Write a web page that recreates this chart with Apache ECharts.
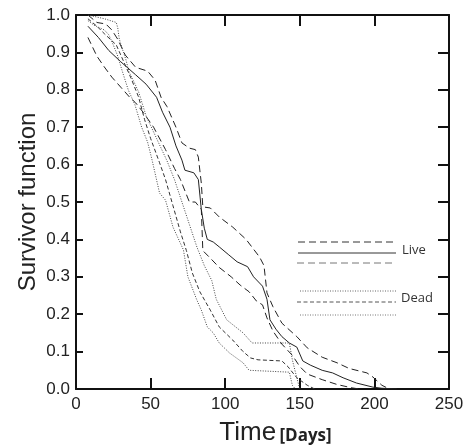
<!DOCTYPE html>
<html>
<head>
<meta charset="utf-8">
<script src="https://cdn.jsdelivr.net/npm/echarts@6/dist/echarts.min.js"></script>
<style>
  html, body { margin: 0; padding: 0; background: #fff; }
  #chart { width: 469px; height: 447px; }
</style>
</head>
<body>
<div id="chart"></div>
<script>
// survivor curves, [days, survival]
var liveMid = [[8,0.97],[15,0.94],[22,0.905],[30,0.875],[40,0.84],[47,0.815],[54,0.78],[58,0.74],[63,0.70],[67,0.65],[71,0.612],[73,0.585],[79,0.578],[82,0.56],[84,0.48],[86,0.43],[88,0.40],[92,0.393],[96,0.38],[102,0.36],[108,0.34],[115,0.327],[119,0.30],[125,0.275],[128,0.24],[130,0.185],[134,0.16],[138,0.14],[143,0.123],[148,0.112],[152,0.075],[157,0.064],[165,0.05],[172,0.043],[179,0.03],[188,0.016],[199,0.005],[205,0.002],[215,0]]
var liveHigh = [[8,1.0],[14,0.98],[20,0.976],[24,0.96],[28,0.935],[33,0.893],[40,0.86],[48,0.85],[53,0.826],[57,0.78],[61,0.755],[67,0.70],[71,0.658],[76,0.644],[80,0.64],[82,0.62],[84,0.55],[85,0.487],[90,0.484],[96,0.46],[105,0.433],[114,0.40],[123,0.353],[126,0.33],[128,0.257],[132,0.22],[138,0.176],[148,0.14],[155,0.11],[165,0.085],[175,0.07],[183,0.055],[195,0.043],[199,0.032],[205,0.01],[210,0]]
var liveLow = [[8,0.94],[14,0.89],[19,0.861],[24,0.834],[30,0.807],[36,0.78],[40,0.765],[45,0.74],[52,0.70],[60,0.64],[66,0.59],[70,0.56],[76,0.50],[80,0.50],[84,0.48],[85,0.37],[90,0.35],[96,0.325],[104,0.30],[110,0.278],[116,0.26],[121,0.235],[125,0.225],[128,0.19],[132,0.155],[138,0.12],[145,0.09],[150,0.06],[155,0.04],[165,0.025],[175,0.012],[185,0.003],[190,0]]
var deadMid = [[8,0.99],[14,0.97],[19,0.95],[23,0.935],[27,0.92],[30,0.893],[33,0.866],[37,0.83],[42,0.78],[46,0.72],[50,0.67],[56,0.605],[60,0.56],[65,0.49],[70,0.42],[74,0.37],[78,0.31],[83,0.26],[90,0.211],[96,0.166],[105,0.131],[112,0.10],[117,0.083],[122,0.078],[138,0.075],[142,0.06],[148,0.03],[155,0.01],[160,0]]
var deadHigh = [[8,1.0],[19,0.99],[27,0.98],[28,0.965],[29,0.936],[31,0.91],[33.5,0.88],[35.5,0.848],[39,0.82],[42,0.794],[47,0.73],[54,0.67],[61,0.61],[66,0.56],[71,0.50],[76,0.44],[81,0.38],[86,0.33],[91,0.29],[94,0.24],[101,0.185],[112,0.15],[118,0.123],[143,0.123],[145,0.078],[148,0.03],[150,0]]
var deadLow = [[8,0.985],[12,0.973],[19,0.96],[22,0.947],[25,0.92],[28,0.89],[31,0.85],[35,0.80],[39.5,0.76],[44,0.70],[48,0.66],[51,0.612],[56,0.524],[60,0.505],[65,0.433],[72,0.372],[75,0.30],[81,0.238],[84,0.211],[88,0.166],[92,0.15],[96,0.123],[103,0.096],[112,0.07],[116,0.05],[143,0.045],[145,0.01],[147,0]]

var xTicks = [0, 50, 100, 150, 200, 250]
var groupNames = ['Live', 'Dead']

var longDash = [7, 4]
var shortDash = [4, 2.5]
var dots = [1, 1.5]

var chart = echarts.init(document.getElementById('chart'))

function curve(data, dash, color) {
  return {
    type: 'line',
    data: data,
    showSymbol: false,
    silent: true,
    lineStyle: { color: color, width: 1, type: dash }
  }
}

// legend lines drawn by hand at the right
function legLine(y, dash, color, x1) {
  return {
    type: 'line',
    shape: { x1: x1 || 298, y1: y, x2: 396, y2: y },
    style: { stroke: color, lineWidth: 1, lineDash: dash === 'solid' ? null : dash }
  }
}

var axisLine = { onZero: false, lineStyle: { color: '#111', width: 2 } }

var option = {
  animation: false,
  grid: { left: 76, right: 20, top: 15, bottom: 58, outerBoundsMode: 'none' },
  xAxis: [{
    type: 'value',
    min: 0, max: 250, interval: 50,
    axisLine: axisLine,
    axisTick: { inside: true, length: 11, lineStyle: { color: '#111', width: 2 } },
    axisLabel: { color: '#222', fontSize: 17, fontFamily: 'Liberation Sans', margin: 7, formatter: function (v) { return xTicks.indexOf(v) >= 0 ? v : '' } },
    splitLine: { show: false },
    name: '{t|Time} {d|[Days]}',
    nameLocation: 'middle',
    nameMoveOverlap: false,
    nameGap: 31,
    nameTextStyle: {
      padding: [0, 0, 0, 26],
      rich: {
        t: { fontSize: 26, fontFamily: 'Liberation Sans', color: '#222' },
        d: { fontSize: 17, fontFamily: 'Open Sans', fontWeight: 'bold', color: '#222', padding: [6, 0, 0, 0] }
      }
    }
  }, {
    type: 'value', position: 'top',
    min: 0, max: 250, interval: 50,
    axisLine: axisLine,
    axisTick: { inside: true, length: 11, lineStyle: { color: '#111', width: 2 } },
    axisLabel: { show: false },
    splitLine: { show: false }
  }],
  yAxis: [{
    type: 'value',
    min: 0, max: 1, interval: 0.1,
    axisLine: axisLine,
    axisTick: { inside: true, length: 7, lineStyle: { color: '#111', width: 2 } },
    axisLabel: { color: '#222', fontSize: 17, fontFamily: 'Liberation Sans', margin: 6, formatter: function (v) { return v.toFixed(1) } },
    splitLine: { show: false },
    name: 'Survivor function',
    nameLocation: 'middle',
    nameMoveOverlap: false,
    nameGap: 36,
    nameTextStyle: { fontSize: 24, fontFamily: 'Liberation Sans', color: '#222' }
  }, {
    type: 'value', position: 'right',
    min: 0, max: 1, interval: 0.1,
    axisLine: axisLine,
    axisTick: { inside: true, length: 11, lineStyle: { color: '#111', width: 2 } },
    axisLabel: { show: false },
    splitLine: { show: false }
  }],
  series: [
    curve(liveMid, 'solid', '#222'),
    curve(liveHigh, longDash, '#222'),
    curve(liveLow, longDash, '#222'),
    curve(deadMid, shortDash, '#333'),
    curve(deadHigh, dots, '#444'),
    curve(deadLow, dots, '#444')
  ],
  graphic: [
    legLine(242, longDash, '#333'),
    legLine(253, 'solid', '#333'),
    legLine(263, longDash, '#777', 297),
    legLine(291, dots, '#666', 300),
    legLine(302, shortDash, '#555', 297),
    legLine(315, dots, '#777', 300),
    { type: 'text', left: 402, top: 244, style: { text: groupNames[0], fontSize: 13, fontFamily: 'Open Sans', fill: '#333' } },
    { type: 'text', left: 401, top: 292, style: { text: groupNames[1], fontSize: 13, fontFamily: 'Open Sans', fill: '#333' } }
  ]
}

chart.setOption(option)
</script>
</body>
</html>
